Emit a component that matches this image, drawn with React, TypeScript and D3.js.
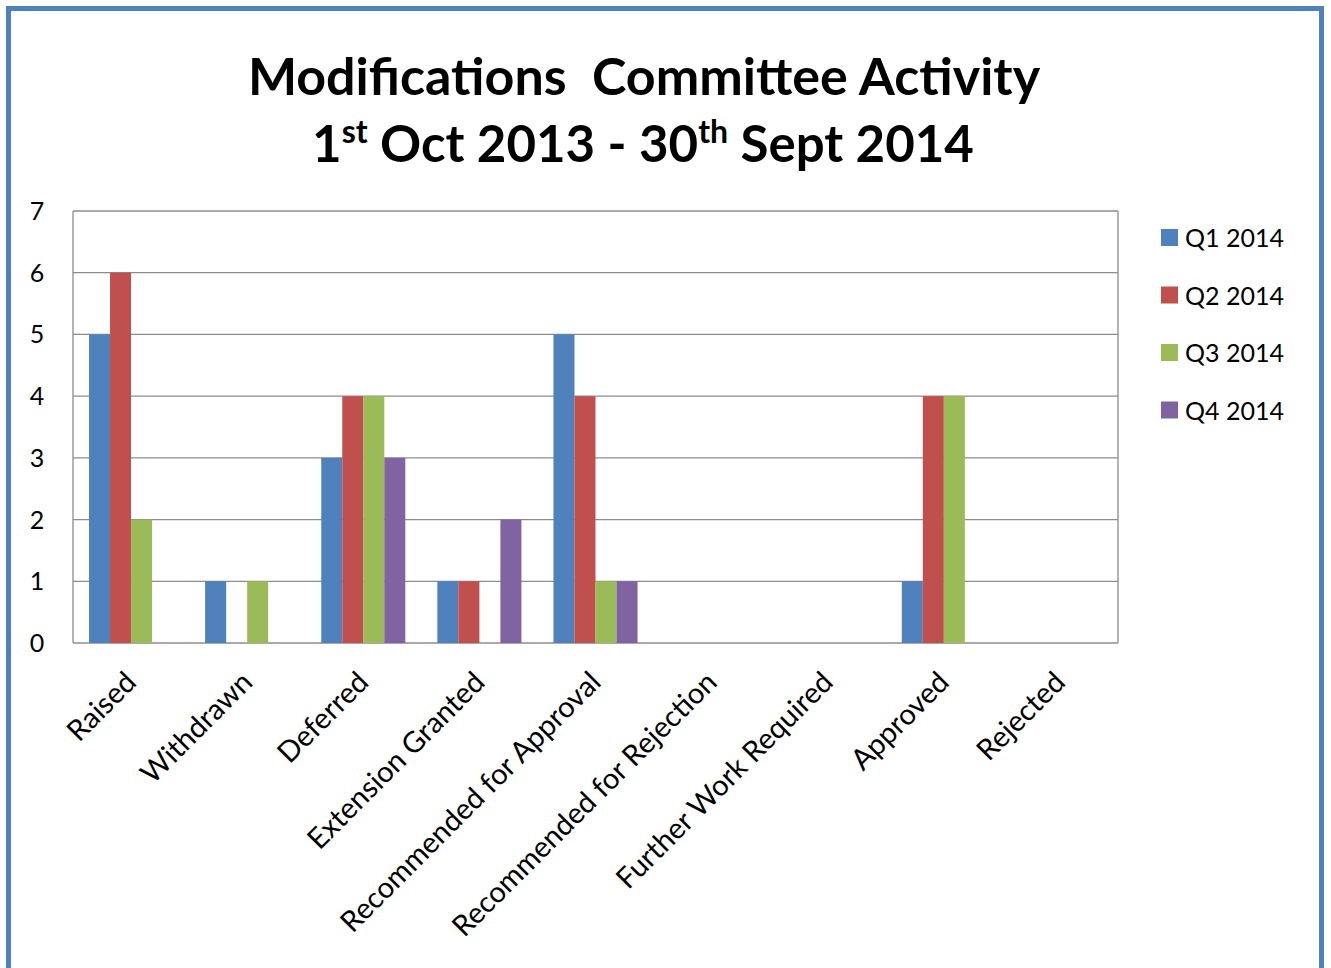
import React from "react";
import * as d3 from "d3";

const categories = [
  "Raised",
  "Withdrawn",
  "Deferred",
  "Extension Granted",
  "Recommended for Approval",
  "Recommended for Rejection",
  "Further Work Required",
  "Approved",
  "Rejected",
];
const seriesNames = ["Q1 2014", "Q2 2014", "Q3 2014", "Q4 2014"];
const q1 = [5, 1, 3, 1, 5, 0, 0, 1, 0];
const q2 = [6, 0, 4, 1, 4, 0, 0, 4, 0];
const q3 = [2, 1, 4, 0, 1, 0, 0, 4, 0];
const q4 = [0, 0, 3, 2, 1, 0, 0, 0, 0];
const seriesValues = [q1, q2, q3, q4];
const colors = ["#4F81BD", "#C0504D", "#9BBB59", "#8064A2"];
const yTicks = [0, 1, 2, 3, 4, 5, 6, 7];

const W = 1331;
const H = 968;
const FONT = "Lato, 'Open Sans', sans-serif";

export default function App() {
  const left = 73, right = 1118, top = 211, bottom = 643;
  const x0 = d3.scaleBand<string>().domain(categories).range([left, right]).paddingInner(0.276).paddingOuter(0.138);
  const x1 = d3.scaleBand<string>().domain(seriesNames).range([0, x0.bandwidth()]);
  const y = d3.scaleLinear().domain([0, 7]).range([bottom, top]);

  return (
    <div style={{ position: "absolute", left: 0, top: 0, width: W, height: H, background: "#fff" }}>
      <svg width={W} height={H} style={{ display: "block" }} fontFamily={FONT}>
        <rect x={0} y={0} width={W} height={H} fill="#fff" />
        {/* frame */}
        <rect x={8.5} y={8.5} width={1313} height={962} fill="#fff" stroke="#4F81BD" strokeWidth={5} />
        {/* title */}
        <text x={644} y={95} textAnchor="middle" fontSize={52} fontWeight="bold" fill="#000">
          Modifications{"\u00A0\u00A0"}Committee Activity
        </text>
        <text x={643} y={162} textAnchor="middle" fontSize={51} fontWeight="bold" fill="#000">
          1<tspan fontSize={32} dy={-19}>st</tspan>
          <tspan dy={19}> Oct 2013 - 30</tspan>
          <tspan fontSize={32} dy={-19}>th</tspan>
          <tspan dy={19}> Sept 2014</tspan>
        </text>
        {/* gridlines */}
        {yTicks.map((t) => (
          <line key={t} x1={left} x2={right} y1={y(t)} y2={y(t)} stroke="#8c8c8c" strokeWidth={1.3} />
        ))}
        <line x1={left} x2={left} y1={top} y2={bottom} stroke="#8c8c8c" strokeWidth={1.3} />
        <line x1={right} x2={right} y1={top} y2={bottom} stroke="#8c8c8c" strokeWidth={1.3} />
        {/* y tick labels */}
        {yTicks.map((t) => (
          <text key={t} x={37} y={y(t) + 9} textAnchor="middle" fontSize={25} fill="#000">
            {t}
          </text>
        ))}
        {/* bars */}
        {categories.map((c, ci) => (
          <g key={c} transform={`translate(${x0(c)},0)`}>
            {seriesNames.map((s, si) => {
              const v = seriesValues[si][ci];
              if (!v) return null;
              return (
                <rect key={s} x={x1(s)} y={y(v)} width={x1.bandwidth()} height={y(0) - y(v)} fill={colors[si]} />
              );
            })}
          </g>
        ))}
        {/* x labels */}
        {categories.map((c) => {
          const cx = (x0(c) as number) + x0.bandwidth() / 2 + 7;
          const cy = 684;
          return (
            <text key={c} x={cx} y={cy} textAnchor="end" fontSize={29} fill="#000" transform={`rotate(-45 ${cx} ${cy})`}>
              {c}
            </text>
          );
        })}
        {/* legend */}
        {seriesNames.map((s, i) => (
          <g key={s} transform={`translate(1161, ${229 + i * 57.5})`}>
            <rect x={0} y={0} width={17} height={17} fill={colors[i]} />
            <text x={24} y={18} fontSize={25} fill="#000">{s}</text>
          </g>
        ))}
      </svg>
    </div>
  );
}
